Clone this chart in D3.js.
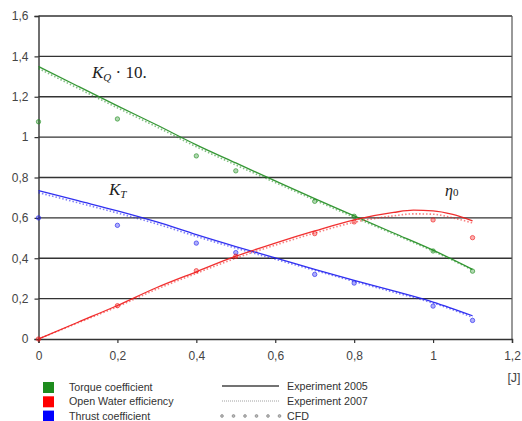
<!DOCTYPE html>
<html><head><meta charset="utf-8">
<script src="https://cdn.jsdelivr.net/npm/d3@7"></script>
<style>body{margin:0;background:#fff}svg{display:block}</style>
</head><body><svg id="c" width="522" height="421"></svg>
<script>
const xTicks = [0,0.2,0.4,0.6,0.8,1,1.2];
const xTickLabels = ["0","0,2","0,4","0,6","0,8","1","1,2"];
const yTicks = [0,0.2,0.4,0.6,0.8,1,1.2,1.4,1.6];
const yTickLabels = ["0","0,2","0,4","0,6","0,8","1","1,2","1,4","1,6"];

const jExp = [0,0.1,0.2,0.3,0.4,0.5,0.6,0.7,0.8,0.9,1.0,1.1];
const kq2005 = [1.35,1.252,1.155,1.06,0.962,0.872,0.783,0.695,0.61,0.525,0.44,0.345];
const kq2007 = [1.34,1.242,1.145,1.05,0.952,0.862,0.775,0.688,0.603,0.52,0.435,0.342];
const kt2005 = [0.735,0.685,0.635,0.58,0.517,0.458,0.402,0.345,0.29,0.238,0.183,0.115];
const kt2007 = [0.725,0.675,0.624,0.57,0.508,0.45,0.395,0.34,0.285,0.232,0.178,0.108];
const jEta = [0,0.1,0.2,0.3,0.4,0.5,0.6,0.7,0.8,0.9,0.95,1.0,1.05,1.1];
const eta2005 = [0,0.083,0.166,0.255,0.333,0.41,0.475,0.535,0.59,0.627,0.638,0.635,0.617,0.585];
const eta2007 = [0,0.08,0.16,0.247,0.325,0.4,0.465,0.525,0.578,0.61,0.62,0.618,0.6,0.575];

const jCfd = [0,0.2,0.4,0.5,0.7,0.8,1.0,1.1];
const kqCfd = [1.076,1.09,0.907,0.833,0.682,0.608,0.436,0.336];
const ktCfd = [0.6,0.563,0.475,0.428,0.32,0.277,0.163,0.092];
const etaCfd = [0,0.165,0.338,0.41,0.522,0.58,0.59,0.502];

const legendColors = ["Torque coefficient","Open Water efficiency","Thrust coefficient"];
const legendStyles = ["Experiment 2005","Experiment 2007","CFD"];

const green = "#1e8c1e", red = "#f01818", blue = "#1a1af0";

const svg = d3.select("#c");
const x = d3.scaleLinear().domain([0,1.2]).range([38.5,512]);
const y = d3.scaleLinear().domain([0,1.6]).range([339,16]);

// grid
svg.append("g").selectAll("line").data(yTicks.filter(d=>d>0)).join("line")
  .attr("x1",x(0)).attr("x2",x(1.2)).attr("y1",d=>y(d)).attr("y2",d=>y(d))
  .attr("stroke","#333").attr("stroke-width",1.4);
// right border
svg.append("line").attr("x1",x(1.2)).attr("x2",x(1.2)).attr("y1",y(1.6)).attr("y2",y(0))
  .attr("stroke","#555").attr("stroke-width",1.2);

// axes
const xAxis = d3.axisBottom(x).tickValues(xTicks).tickFormat((d,i)=>xTickLabels[i]).tickSize(4).tickPadding(8);
const gx = svg.append("g").attr("transform",`translate(0,${y(0)})`).call(xAxis);
const yAxis = d3.axisLeft(y).tickValues(yTicks).tickFormat((d,i)=>yTickLabels[i]).tickSize(4).tickPadding(6);
const gy = svg.append("g").attr("transform",`translate(${x(0)},0)`).call(yAxis);
[gx,gy].forEach(g=>{
  g.select(".domain").attr("stroke","#333").attr("stroke-width",1.4);
  g.selectAll(".tick line").attr("stroke","#333").attr("stroke-width",1.2);
  g.selectAll("text").attr("font-family","Liberation Sans, Arial, sans-serif").attr("font-size",12).attr("fill","#444");
});

svg.append("text").attr("x",514).attr("y",382).attr("text-anchor","middle")
  .attr("font-family","Liberation Sans, Arial, sans-serif").attr("font-size",12.5).attr("fill","#444").text("[J]");

const line = d3.line().curve(d3.curveMonotoneX);
function drawSeries(js, vals, color, dashed){
  svg.append("path").attr("d", line(js.map((j,i)=>[x(j),y(vals[i])])))
    .attr("fill","none").attr("stroke",color)
    .attr("stroke-width", dashed?1.6:1.3)
    .attr("stroke-opacity", dashed?0.55:0.9)
    .attr("stroke-dasharray", dashed?"1.5,2":null);
}
drawSeries(jExp,kq2007,green,true);
drawSeries(jExp,kq2005,green,false);
drawSeries(jExp,kt2007,blue,true);
drawSeries(jExp,kt2005,blue,false);
drawSeries(jEta,eta2007,red,true);
drawSeries(jEta,eta2005,red,false);

function drawCfd(vals,color){
  svg.append("g").selectAll("circle").data(jCfd).join("circle")
    .attr("cx",d=>x(d)).attr("cy",(d,i)=>y(vals[i])).attr("r",2.2)
    .attr("fill",color).attr("fill-opacity",0.35).attr("stroke",color).attr("stroke-opacity",0.6).attr("stroke-width",1);
}
drawCfd(kqCfd,green);
drawCfd(ktCfd,blue);
drawCfd(etaCfd,red);

// annotations
const sf = "Liberation Serif, DejaVu Serif, serif";
const kq = svg.append("text").attr("x",92).attr("y",78).attr("font-family",sf).attr("font-size",17).attr("fill","#222");
kq.append("tspan").attr("font-style","italic").text("K");
kq.append("tspan").attr("font-style","italic").attr("font-size",11).attr("dy",3).text("Q");
kq.append("tspan").attr("dy",-3).text(" · 10.");
const kt = svg.append("text").attr("x",109).attr("y",195).attr("font-family",sf).attr("font-size",17).attr("fill","#222");
kt.append("tspan").attr("font-style","italic").text("K");
kt.append("tspan").attr("font-style","italic").attr("font-size",11).attr("dy",3).text("T");
const et = svg.append("text").attr("x",445).attr("y",196).attr("font-family",sf).attr("font-size",16).attr("fill","#222");
et.append("tspan").attr("font-style","italic").text("η");
et.append("tspan").attr("font-size",11).text("0");

// legend
const lf = "Liberation Sans, Arial, sans-serif";
const lc = [green,"#ff0000","#0000ff"];
legendColors.forEach((t,i)=>{
  svg.append("rect").attr("x",43).attr("y",382+i*14.3).attr("width",11).attr("height",11).attr("fill",lc[i]);
  svg.append("text").attr("x",69).attr("y",391+i*14.3).attr("font-family",lf).attr("font-size",10.7).attr("fill","#333").text(t);
});
const ly = [386,401,416];
svg.append("line").attr("x1",222).attr("x2",279).attr("y1",ly[0]).attr("y2",ly[0]).attr("stroke","#444").attr("stroke-width",1.6);
svg.append("line").attr("x1",222).attr("x2",279).attr("y1",ly[1]).attr("y2",ly[1]).attr("stroke","#888").attr("stroke-width",0.8).attr("stroke-dasharray","1,1");
svg.append("g").selectAll("circle").data(d3.range(6)).join("circle")
  .attr("cx",d=>222+d*11.5).attr("cy",ly[2]).attr("r",1.4).attr("fill","#bbb").attr("stroke","#777").attr("stroke-width",0.6);
legendStyles.forEach((t,i)=>{
  svg.append("text").attr("x",287).attr("y",ly[i]+4).attr("font-family",lf).attr("font-size",10.7).attr("fill","#333").text(t);
});
</script></body></html>
